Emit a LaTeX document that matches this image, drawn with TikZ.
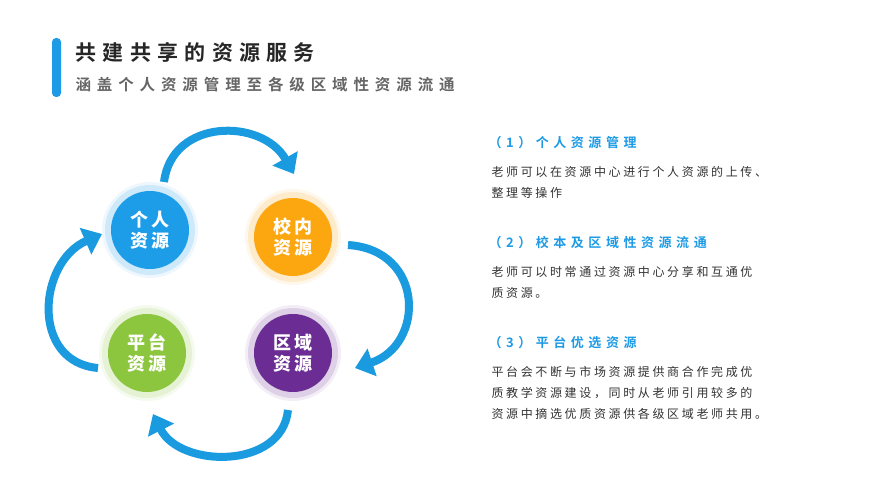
\documentclass[tikz,border=0pt]{standalone}
\usepackage{fontspec}
\usepackage{xcolor}
\setmainfont{Noto Sans CJK SC}
\newfontfamily\titlefont[LetterSpace=30]{Noto Sans CJK SC Bold}
\newfontfamily\subfont[LetterSpace=38]{Noto Sans CJK SC Bold}
\newfontfamily\headfont[LetterSpace=35]{Noto Sans CJK SC Bold}
\newfontfamily\bodyfont[LetterSpace=22]{Noto Sans CJK SC}
\usetikzlibrary{arrows.meta}
\definecolor{hdblue}{HTML}{1E9BE6}
\definecolor{arblue}{HTML}{1A9BDF}
\definecolor{cblue}{HTML}{1D9DE8}
\definecolor{corange}{HTML}{FDA710}
\definecolor{cgreen}{HTML}{8CC63F}
\definecolor{cpurple}{HTML}{6B2D93}
\definecolor{bodygray}{HTML}{333333}

\begin{document}
\begin{tikzpicture}[x=1pt,y=-1pt,
  res/.style={circle,minimum size=78pt,inner sep=0pt,text=white,font=\bfseries\fontsize{18}{21}\selectfont,align=center},
  flow/.style={arblue,line width=8pt,-{Triangle[width=28pt,length=18pt]}},
  head/.style={anchor=west,text=hdblue,font=\headfont\fontsize{13}{15}\selectfont},
  body/.style={anchor=north west,text=bodygray,font=\bodyfont\fontsize{12}{21}\selectfont,align=left}]
                % Frame
                \useasboundingbox (0,0) rectangle (891,500);
                \fill[white] (0,0) rectangle (891,500);

                % Title block
                \fill[hdblue,rounded corners=4pt] (52,38) rectangle (61,97);
                \node[anchor=west,font=\titlefont\fontsize{21}{23}\selectfont,text=black!85] (title) at (72,52) {共建共享的资源服务};
                \node[anchor=west,font=\subfont\fontsize{15.5}{17}\selectfont,text=black!60] (subtitle) at (72,85) {涵盖个人资源管理至各级区域性资源流通};

                % Resource circles with glow
                \foreach \name/\col/\x/\y/\txt in {pers/cblue/150/230/个\,人\\资\,源, school/corange/293/237/校\,内\\资\,源, plat/cgreen/147/353/平\,台\\资\,源, region/cpurple/293/353/区\,域\\资\,源}{
                  \fill[\col,opacity=0.08] (\x,\y) circle (48);
                  \fill[\col,opacity=0.15] (\x,\y) circle (45);
                  \node[res,fill=\col] (\name) at (\x,\y) {\txt};
                }

                % Cycle arrows
                \draw[flow] (164,182) .. controls (172,118) and (262,118) .. (294,174);
                \draw[flow] (348,245) .. controls (425,250) and (425,345) .. (355,368);
                \draw[flow] (288,410) .. controls (282,470) and (180,468) .. (153,414);
                \draw[flow] (98,368) .. controls (30,362) and (38,262) .. (102,234);

                % Descriptions
                \node[head] (h1) at (485,143) {（1）个人资源管理};
                \node[body] (b1) at (488,163) {老师可以在资源中心进行个人资源的上传、\\整理等操作};
                \node[head] (h2) at (485,243) {（2）校本及区域性资源流通};
                \node[body] (b2) at (488,263) {老师可以时常通过资源中心分享和互通优\\质资源。};
                \node[head] (h3) at (485,343) {（3）平台优选资源};
                \node[body] (b3) at (488,363) {平台会不断与市场资源提供商合作完成优\\质教学资源建设，同时从老师引用较多的\\资源中摘选优质资源供各级区域老师共用。};
            \end{tikzpicture}
\end{document}
